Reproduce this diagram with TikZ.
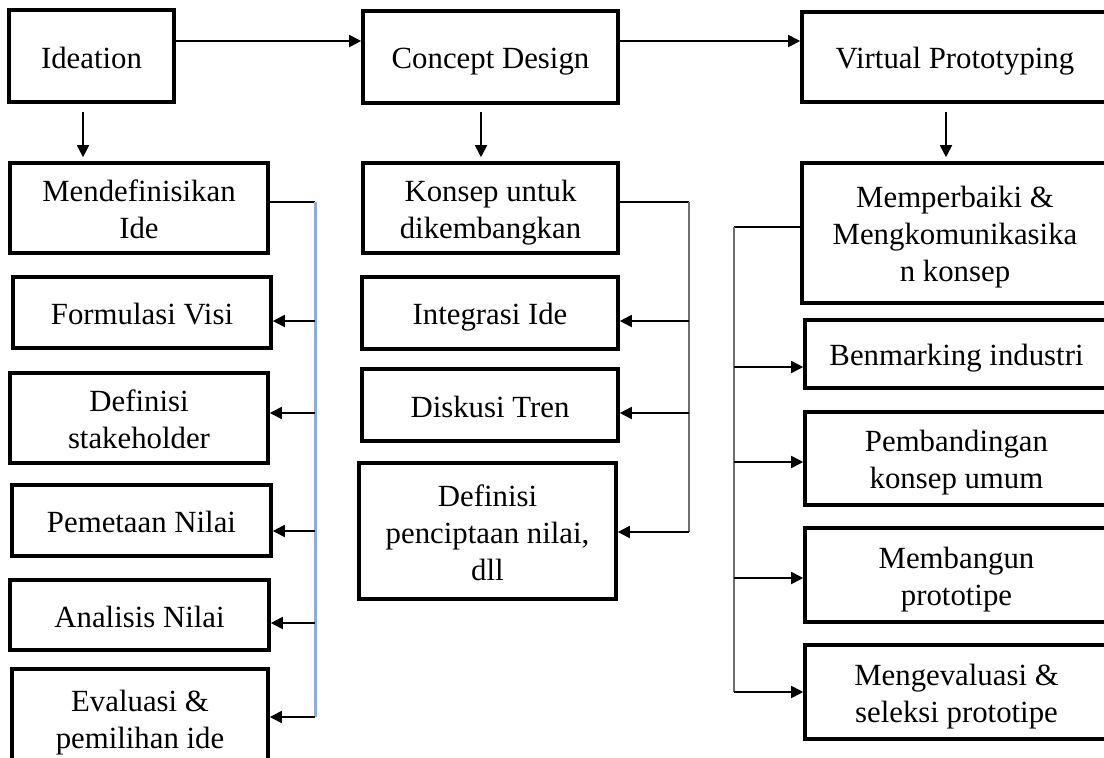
\documentclass[tikz,border=0pt]{standalone}
\usepackage{fontspec}
\setmainfont{Liberation Serif}
\usetikzlibrary{arrows.meta}
\definecolor{linkblue}{RGB}{143,170,220}
\definecolor{linkgray}{RGB}{110,110,110}
\tikzset{
  stepbox/.style={draw, line width=3.6pt, align=center, inner sep=0pt,
    font=\fontsize{30.8}{37}\selectfont},
  conn/.style={line width=1.8pt},
  arr/.style={conn, -{Triangle[length=12pt,width=12pt]}},
}
\newcommand\topstrut{\rule{0pt}{30.5pt}}
\newcommand\botstrut{\rule[-6.5pt]{0pt}{6.5pt}}
\newcommand\bx[6]{\node[stepbox, minimum width={(#4-#2)*1pt}, minimum height={(#5-#3)*1pt}] (#1) at ({(#2+#4)/2},{(#3+#5)/2}) {\topstrut #6\botstrut};}
\begin{document}
\begin{tikzpicture}[x=1pt,y=-1pt]
\useasboundingbox (0,0) rectangle (1104,758);
\clip (0,0) rectangle (1104,758);
\fill[white] (0,0) rectangle (1104,758);
% top row
\bx{ide}{9}{10}{174}{102}{Ideation}
\bx{con}{363}{11}{618}{103}{Concept Design}
\bx{vp}{802}{12}{1108}{102}{Virtual Prototyping}
% left column
\bx{mdi}{10}{163}{268}{253}{Mendefinisikan\\Ide}
\bx{fv}{13}{277}{271}{348}{Formulasi Visi}
\bx{ds}{10}{373}{268}{463}{Definisi\\stakeholder}
\bx{pn}{12}{485}{271}{556}{Pemetaan Nilai}
\bx{an}{10}{580}{269}{650}{Analisis Nilai}
\bx{ev}{12}{669}{268}{768}{Evaluasi \&\\pemilihan ide}
% middle column
\bx{kon}{363}{163}{618}{253}{Konsep untuk\\dikembangkan}
\bx{ii}{362}{277}{618}{349}{Integrasi Ide}
\bx{dt}{362}{369}{618}{441}{Diskusi Tren}
\bx{dp}{359}{463}{616}{599}{Definisi\\penciptaan nilai,\\dll}
% right column
\bx{mem}{802}{163}{1108}{303}{Memperbaiki \&\\Mengkomunikasika\\n konsep}
\bx{bi}{805}{320}{1108}{388}{Benmarking industri}
\bx{pk}{805}{412}{1108}{505}{Pembandingan\\konsep umum}
\bx{mb}{805}{528}{1108}{622}{Membangun\\prototipe}
\bx{me}{805}{645}{1108}{739}{Mengevaluasi \&\\seleksi prototipe}
% horizontal top arrows
\coordinate (h1) at (174,41);
\coordinate (h2) at (618,41);
\draw[arr] (h1) -- (h1 -| con.west);
\draw[arr] (h2) -- (h2 -| vp.west);
% down arrows
\coordinate (d1) at (83,102);
\coordinate (d2) at (481,103);
\coordinate (d3) at (946,102);
\draw[arr, shorten <=10pt, shorten >=4pt] (d1) -- (d1 |- mdi.north);
\draw[arr, shorten <=9pt, shorten >=4pt] (d2) -- (d2 |- kon.north);
\draw[arr, shorten <=10pt, shorten >=4pt] (d3) -- (d3 |- mem.north);
% left bracket
\coordinate (lt) at (315,202);
\coordinate (lb) at (315,717);
\draw[conn] (lt -| mdi.east) -- (lt);
\draw[line width=3pt, linkblue] (lt) -- (lb);
\foreach \y/\n in {321/fv, 413/ds, 531/pn, 623/an, 717/ev}{
  \coordinate (l\n) at (315,\y);
  \draw[arr] (l\n) -- (l\n -| \n.east);
}
% middle bracket
\coordinate (mt) at (689,202);
\coordinate (mbm) at (689,532);
\draw[conn] (mt -| kon.east) -- (mt);
\draw[line width=2.6pt, linkgray] (mt) -- (mbm);
\foreach \y/\n in {321/ii, 413/dt, 532/dp}{
  \coordinate (m\n) at (689,\y);
  \draw[arr] (m\n) -- (m\n -| \n.east);
}
% right bracket
\coordinate (rt) at (734,227);
\coordinate (rb) at (734,692);
\draw[conn] (rt -| mem.west) -- (rt);
\draw[line width=2.6pt, linkgray] (rt) -- (rb);
\foreach \y/\n in {367/bi, 462/pk, 578/mb, 692/me}{
  \coordinate (r\n) at (734,\y);
  \draw[arr] (r\n) -- (r\n -| \n.west);
}
\end{tikzpicture}
\end{document}
